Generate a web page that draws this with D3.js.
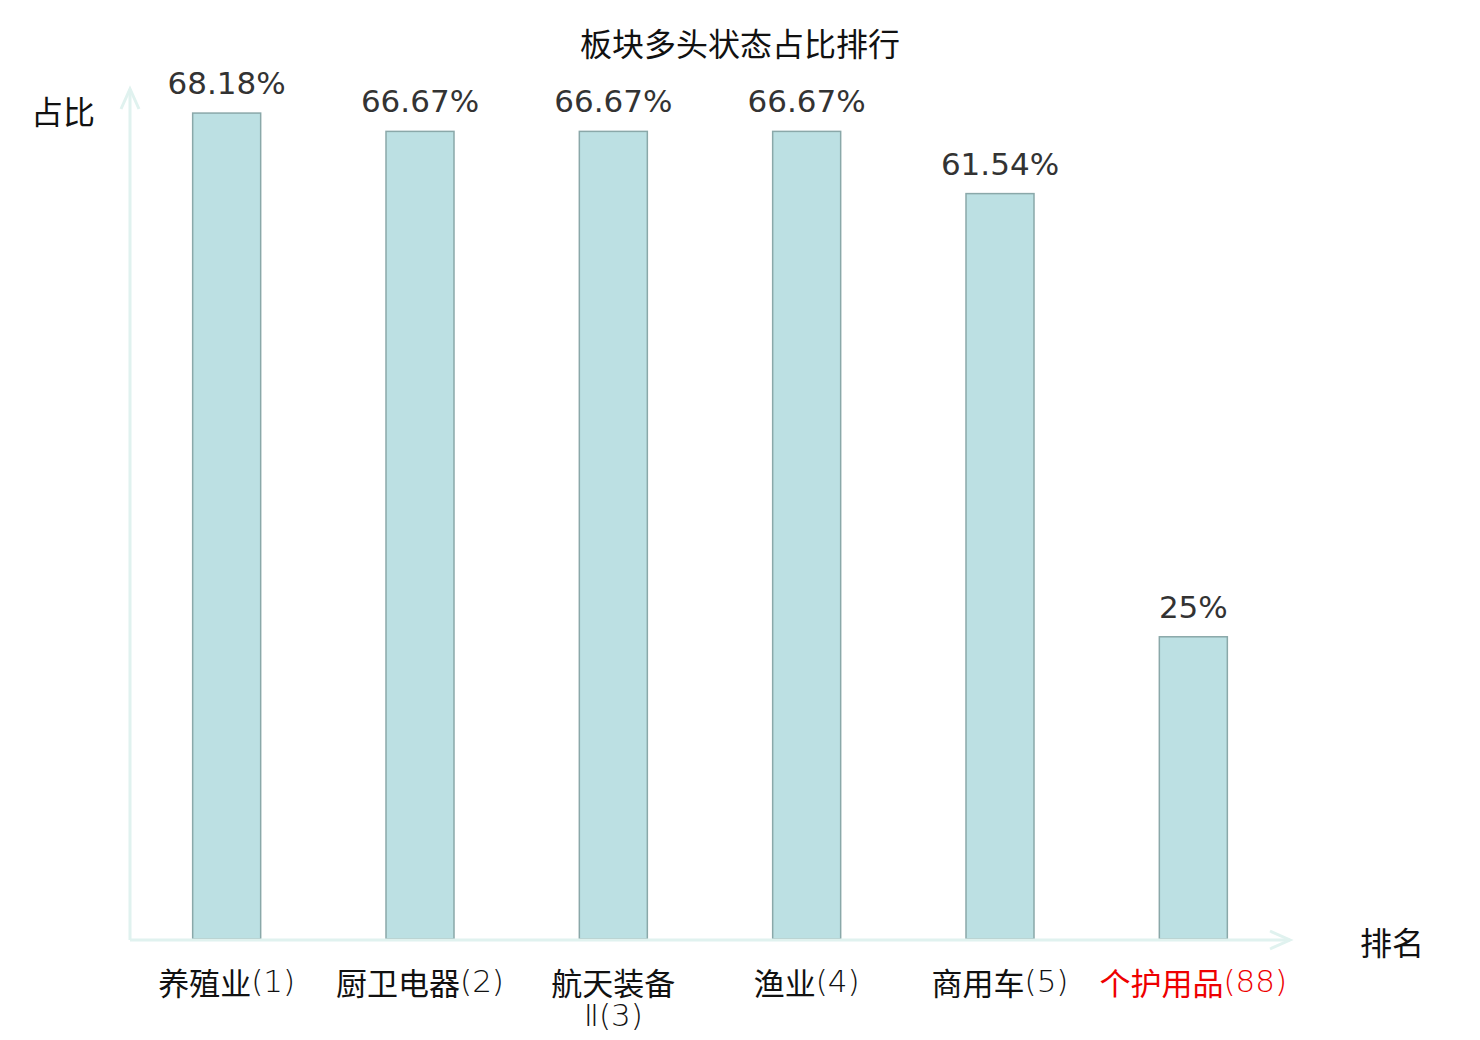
<!DOCTYPE html>
<html>
<head>
<meta charset="utf-8">
<script src="https://cdn.jsdelivr.net/npm/d3@7/dist/d3.min.js"></script>
<style>
  html, body { margin: 0; padding: 0; background: #ffffff; }
  svg { display: block; }
</style>
</head>
<body>
<svg id="chart" width="1480" height="1040"></svg>
<script>
const categories = ["养殖业(1)", "厨卫电器(2)", "航天装备Ⅱ(3)", "渔业(4)", "商用车(5)", "个护用品(88)"];
const labelLines = [["养殖业(1)"], ["厨卫电器(2)"], ["航天装备", "Ⅱ(3)"], ["渔业(4)"], ["商用车(5)"], ["个护用品(88)"]];
const values = [68.18, 66.67, 66.67, 66.67, 61.54, 25];
const valueLabels = ["68.18%", "66.67%", "66.67%", "66.67%", "61.54%", "25%"];
const highlight = [false, false, false, false, false, true];
const chartTitle = "板块多头状态占比排行";
const yName = "占比";
const xName = "排名";

const svg = d3.select("#chart");
const mLeft = 130, mRight = 1290, mBottom = 940, mTop = 91;

const x = d3.scaleBand().domain(categories).range([mLeft, mRight]).paddingInner(0).paddingOuter(0);
const y = d3.scaleLinear().domain([0, 70]).range([mBottom, mTop]);
const barW = 68;

const latin = "'DejaVu Sans', 'Noto Sans CJK SC', sans-serif";
const cjk = "'Noto Sans CJK SC', 'DejaVu Sans', sans-serif";
const axisColor = "#e0f2ef";

// title
svg.append("text").attr("x", 740).attr("y", 42).attr("text-anchor", "middle")
  .attr("dominant-baseline", "central")
  .style("font-family", cjk).style("font-size", "32px").attr("fill", "#111")
  .text(chartTitle);

// bars
svg.append("g").selectAll("rect").data(values).join("rect")
  .attr("x", (d, i) => x(categories[i]) + x.bandwidth() / 2 - barW / 2)
  .attr("y", d => y(d))
  .attr("width", barW)
  .attr("height", d => y(0) - y(d) - 1)
  .attr("fill", "#bce0e3")
  .attr("stroke", "#8aa8a9")
  .attr("stroke-width", 1.5);

// value labels
svg.append("g").selectAll("text").data(values).join("text")
  .attr("x", (d, i) => x(categories[i]) + x.bandwidth() / 2)
  .attr("y", d => y(d) - 19)
  .attr("text-anchor", "middle")
  .style("font-family", latin).style("font-size", "31px").attr("fill", "#333")
  .text((d, i) => valueLabels[i]);

// axes
const axisG = svg.append("g");
axisG.append("line").attr("x1", mLeft).attr("x2", mRight).attr("y1", mBottom).attr("y2", mBottom)
  .attr("stroke", axisColor).attr("stroke-width", 3);
axisG.append("polyline")
  .attr("points", `${mRight - 20},${mBottom - 9} ${mRight},${mBottom} ${mRight - 20},${mBottom + 9}`)
  .attr("fill", "none").attr("stroke", axisColor).attr("stroke-width", 3);
axisG.append("line").attr("x1", mLeft).attr("x2", mLeft).attr("y1", mBottom).attr("y2", 89)
  .attr("stroke", axisColor).attr("stroke-width", 3);
axisG.append("polyline")
  .attr("points", `${mLeft - 9},${109} ${mLeft},${89} ${mLeft + 9},${109}`)
  .attr("fill", "none").attr("stroke", axisColor).attr("stroke-width", 3);

// category labels (CJK runs in Noto CJK, other runs in DejaVu light)
const catG = svg.append("g");
const runRe = /[\u4e00-\u9fff]+|[^\u4e00-\u9fff]+/g;
labelLines.forEach((lines, i) => {
  const cx = x(categories[i]) + x.bandwidth() / 2;
  lines.forEach((l, j) => {
    const t = catG.append("text")
      .attr("x", cx)
      .attr("y", 981 + j * 34)
      .attr("text-anchor", "middle")
      .attr("dominant-baseline", "central")
      .style("font-size", "31px")
      .attr("fill", highlight[i] ? "#ee0000" : "#111");
    (l.match(runRe) || []).forEach(run => {
      const isCjk = /[\u4e00-\u9fff]/.test(run);
      t.append("tspan")
        .style("font-family", isCjk ? cjk : latin)
        .style("font-weight", isCjk ? 400 : 200)
        .text(run);
    });
  });
});

// axis names
svg.append("text").attr("x", 63).attr("y", 110).attr("text-anchor", "middle")
  .attr("dominant-baseline", "central")
  .style("font-family", cjk).style("font-size", "32px").attr("fill", "#111").text(yName);
svg.append("text").attr("x", 1392).attr("y", 941).attr("text-anchor", "middle")
  .attr("dominant-baseline", "central")
  .style("font-family", cjk).style("font-size", "32px").attr("fill", "#111").text(xName);
</script>
</body>
</html>
